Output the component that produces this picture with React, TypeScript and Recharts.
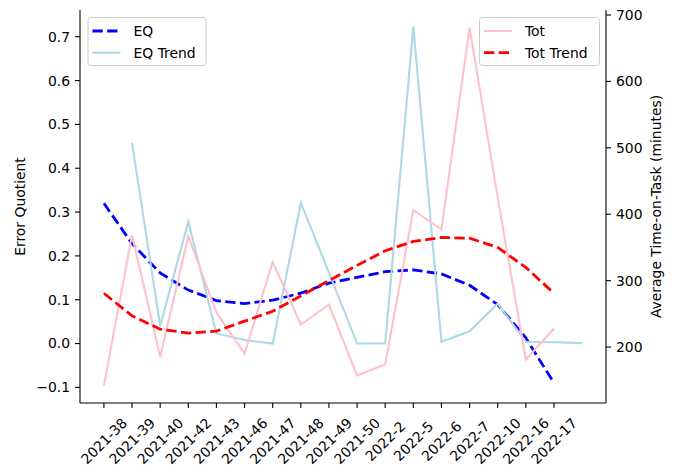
import React from "react";
import { LineChart, Line, XAxis, YAxis } from "recharts";

// week labels on the x axis (positions 0..16); position 17 has no label
const weekLabels = [
  "2021-38", "2021-39", "2021-40", "2021-42", "2021-43", "2021-46", "2021-47",
  "2021-48", "2021-49", "2021-50", "2022-2", "2022-5", "2022-6", "2022-7",
  "2022-10", "2022-16", "2022-17",
];

// left axis (Error Quotient)
const eqValues = [
  0.32, 0.228, 0.161, 0.122, 0.098, 0.091, 0.099, 0.115, 0.138, 0.151, 0.164,
  0.168, 0.159, 0.133, 0.089, 0.013, -0.09,
];
const eqTrendValues = [
  null, 0.458, 0.04, 0.278, 0.023, 0.008, 0.0, 0.321, 0.162, 0.0, 0.0, 0.723,
  0.004, 0.028, 0.091, 0.004, 0.003, 0.001,
];

// right axis (Average Time-on-Task, minutes)
const totValues = [
  142, 369, 185, 367, 252, 190, 328, 234, 264, 157, 174, 406, 377, 681, 425,
  181, 228,
];
const totTrendValues = [
  281, 247, 227, 221, 224, 239, 254, 277, 300, 323, 345, 359, 365, 364, 350,
  320, 281,
];

const eqTicks = [-0.1, 0, 0.1, 0.2, 0.3, 0.4, 0.5, 0.6, 0.7];
const totTicks = [200, 300, 400, 500, 600, 700];
const xTicks = weekLabels.map((_, i) => i);

const data = eqTrendValues.map((t, i) => ({
  idx: i,
  eq: eqValues[i] ?? null,
  eqTrend: t,
  tot: totValues[i] ?? null,
  totTrend: totTrendValues[i] ?? null,
}));

const FONT = '"DejaVu Sans", sans-serif';
const FS = 13.9;

const leftLegend = [
  { label: "EQ", color: "#0000ff", dashed: true },
  { label: "EQ Trend", color: "#add8e6", dashed: false },
];
const rightLegend = [
  { label: "Tot", color: "#ffc0cb", dashed: false },
  { label: "Tot Trend", color: "#ff0000", dashed: true },
];

function RotatedTick(props: any) {
  const { x, y, payload } = props;
  const label = weekLabels[payload.value] ?? "";
  return (
    <text
      x={0}
      y={0}
      transform={`translate(${x},${y + 31}) rotate(-45)`}
      textAnchor="middle"
      dominantBaseline="central"
      fontFamily={FONT}
      fontSize={FS}
      fill="#000"
    >
      {label}
    </text>
  );
}

function LegendBox({ left, top, width, items }: any) {
  return (
    <g transform={`translate(${left},${top})`}>
      <rect
        x={0.5}
        y={0.5}
        width={width}
        height={48}
        rx={3}
        fill="rgba(255,255,255,0.8)"
        stroke="#cccccc"
        strokeWidth={1}
      />
      {items.map((it: any, i: number) => {
        const cy = 14 + i * 21.7;
        return (
          <g key={it.label}>
            <line
              x1={5}
              x2={33}
              y1={cy}
              y2={cy}
              stroke={it.color}
              strokeWidth={it.dashed ? 2.8 : 2.1}
              strokeDasharray={it.dashed ? "10.3 4.4" : undefined}
            />
            <text
              x={46}
              y={cy}
              dominantBaseline="central"
              fontFamily={FONT}
              fontSize={FS}
              fill="#000"
            >
              {it.label}
            </text>
          </g>
        );
      })}
    </g>
  );
}

const fmtEq = (v: number) => v.toFixed(1).replace("-", "\u2212");

export default function App() {
  return (
    <div style={{ position: "absolute", left: 0, top: 0, width: 678, height: 472, background: "#fff" }}>
      <LineChart
        width={678}
        height={472}
        data={data}
        margin={{ top: 10, right: 0, left: 0, bottom: 0 }}
        style={{ fontFamily: FONT }}
      >
        <XAxis
          dataKey="idx"
          type="number"
          domain={[-0.85, 17.85]}
          allowDataOverflow
          ticks={xTicks}
          interval={0}
          height={69}
          tick={<RotatedTick />}
          tickSize={5}
          axisLine={{ stroke: "#000", strokeWidth: 1.1 }}
          tickLine={{ stroke: "#000", strokeWidth: 1.1 }}
        />
        <XAxis
          xAxisId="top"
          dataKey="idx"
          type="number"
          orientation="top"
          domain={[-0.85, 17.85]}
          height={0}
          tick={false}
          tickLine={false}
          axisLine={{ stroke: "#000", strokeWidth: 1.1 }}
        />
        <YAxis
          yAxisId="left"
          width={80}
          domain={[-0.1356, 0.761]}
          allowDataOverflow
          ticks={eqTicks}
          interval={0}
          tickFormatter={fmtEq}
          tickSize={5}
          tickMargin={5}
          tick={{ fill: "#000", fontSize: FS, fontFamily: FONT }}
          axisLine={{ stroke: "#000", strokeWidth: 1.1 }}
          tickLine={{ stroke: "#000", strokeWidth: 1.1 }}
          label={() => (
            <text
              x={20}
              y={206.5}
              transform="rotate(-90 20 206.5)"
              textAnchor="middle"
              dominantBaseline="central"
              fontFamily={FONT}
              fontSize={FS}
              fill="#000"
            >
              Error Quotient
            </text>
          )}
        />
        <YAxis
          yAxisId="right"
          orientation="right"
          width={72}
          domain={[115.8, 707.5]}
          allowDataOverflow
          ticks={totTicks}
          interval={0}
          tickSize={5}
          tickMargin={5}
          tick={{ fill: "#000", fontSize: FS, fontFamily: FONT }}
          axisLine={{ stroke: "#000", strokeWidth: 1.1 }}
          tickLine={{ stroke: "#000", strokeWidth: 1.1 }}
          label={() => (
            <text
              x={656}
              y={206.5}
              transform="rotate(-90 656 206.5)"
              textAnchor="middle"
              dominantBaseline="central"
              fontFamily={FONT}
              fontSize={FS}
              fill="#000"
            >
              Average Time-on-Task (minutes)
            </text>
          )}
        />
        <Line
          yAxisId="left"
          dataKey="eq"
          type="linear"
          stroke="#0000ff"
          strokeWidth={2.8}
          strokeDasharray="10.3 4.4"
          dot={false}
          activeDot={false}
          isAnimationActive={false}
        />
        <Line
          yAxisId="left"
          dataKey="eqTrend"
          type="linear"
          stroke="#add8e6"
          strokeWidth={2.1}
          dot={false}
          activeDot={false}
          isAnimationActive={false}
        />
        <Line
          yAxisId="right"
          dataKey="tot"
          type="linear"
          stroke="#ffc0cb"
          strokeWidth={2.1}
          dot={false}
          activeDot={false}
          isAnimationActive={false}
        />
        <Line
          yAxisId="right"
          dataKey="totTrend"
          type="linear"
          stroke="#ff0000"
          strokeWidth={2.8}
          strokeDasharray="10.3 4.4"
          dot={false}
          activeDot={false}
          isAnimationActive={false}
        />
      </LineChart>
      <svg
        width={678}
        height={472}
        style={{ position: "absolute", left: 0, top: 0, pointerEvents: "none" }}
      >
        <LegendBox left={87.5} top={17} width={118} items={leftLegend} />
        <LegendBox left={479} top={17} width={120} items={rightLegend} />
      </svg>
    </div>
  );
}
